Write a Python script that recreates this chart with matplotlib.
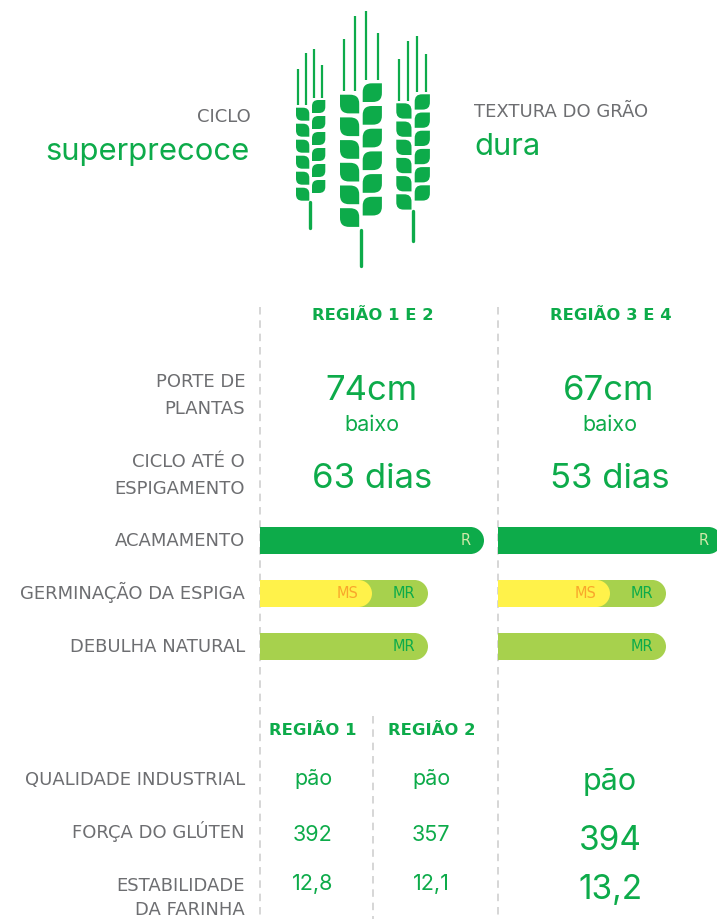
import matplotlib
matplotlib.use("Agg")
import matplotlib.pyplot as plt
from matplotlib.path import Path
from matplotlib.patches import PathPatch

plt.rcParams['font.family'] = ['Inter', 'DejaVu Sans']
ROTULO = 'DejaVu Sans'

GREEN = '#0dab4a'
LIGHT = '#a7d14d'
YELLOW = '#fff24a'
ORANGE = '#f9a72b'
PALE = '#cfe8a9'
GRAY = '#6d6e71'
DASH = '#cfcfcf'

# Dados do grafico
ciclo = 'superprecoce'
textura = 'dura'
regioes_topo = ['REGIÃO 1 E 2', 'REGIÃO 3 E 4']
porte = ['74cm', '67cm']
porte_classe = ['baixo', 'baixo']
espigamento = ['63 dias', '53 dias']

# escala de resistencia: MS=2, MR=3, R=4
niveis = {'MS': 2, 'MR': 3, 'R': 4}
acamamento = ['R', 'R']
germinacao = ['MR', 'MR']
germinacao_frente = ['MS', 'MS']
debulha = ['MR', 'MR']

qualidade = ['pão', 'pão', 'pão']
gluten = ['392', '357', '394']
estabilidade = ['12,8', '12,1', '13,2']

# espigas: x das colunas, topo, passo, tamanho do grao, haste e aristas
espigas = [
    dict(esq=296.0, dir=312.0, larg=13.3, topo_e=107.7, topo_d=100.0, passo=16.0, alt=13.0,
         haste=(310.3, 201.7, 228.3), ar_x=[298.3, 306.3, 314.3, 322.3],
         ar_topo=[68.7, 52.7, 48.7, 64.7], ar_base=[105.3, 105.3, 98.0, 98.0]),
    dict(esq=340.0, dir=362.7, larg=19.2, topo_e=94.7, topo_d=83.3, passo=22.7, alt=18.7,
         haste=(360.5, 230.0, 265.7), ar_x=[343.7, 355.0, 366.3, 377.7],
         ar_topo=[39.0, 16.0, 10.7, 33.0], ar_base=[91.0, 91.0, 80.0, 80.0]),
    dict(esq=396.3, dir=414.7, larg=15.2, topo_e=103.3, topo_d=94.3, passo=18.2, alt=15.3,
         haste=(413.0, 211.0, 240.7), ar_x=[399.3, 408.3, 417.3, 426.3],
         ar_topo=[58.7, 40.7, 36.0, 54.0], ar_base=[101.3, 101.3, 92.0, 92.0]),
]

fig = plt.figure(figsize=(7.17, 9.19), dpi=100)
ax = fig.add_axes([0, 0, 1, 1])
ax.set_xlim(0, 717)
ax.set_ylim(919, 0)
ax.axis('off')

# contorno do grao em coordenadas unitarias (grao da coluna esquerda)
GRAO = [(0, 0), (0.5, 0), (0.85, 0), (1, 0.15), (1, 0.5), (1, 1), (0.5, 1),
        (0.15, 1), (0, 0.85), (0, 0.5), (0, 0)]
GRAO_CODES = [Path.MOVETO, Path.LINETO, Path.CURVE4, Path.CURVE4, Path.CURVE4, Path.LINETO,
              Path.LINETO, Path.CURVE4, Path.CURVE4, Path.CURVE4, Path.CLOSEPOLY]


def grao(x, y, w, h, direita):
    verts = []
    for u, v in GRAO:
        if direita:
            u = 1 - u
        verts.append((x + u * w, y + v * h))
    ax.add_patch(PathPatch(Path(verts, GRAO_CODES), fc=GREEN, ec='none'))


for e in espigas:
    for i in range(6):
        grao(e['esq'], e['topo_e'] + i * e['passo'], e['larg'], e['alt'], False)
        grao(e['dir'], e['topo_d'] + i * e['passo'], e['larg'], e['alt'], True)
    hx, h0, h1 = e['haste']
    ax.plot([hx, hx], [h0, h1], color=GREEN, lw=2.4, solid_capstyle='round')
    for ar_x, t, b in zip(e['ar_x'], e['ar_topo'], e['ar_base']):
        ax.plot([ar_x, ar_x], [t, b], color=GREEN, lw=1.6, solid_capstyle='butt')


def barra(x0, y0, nivel, cor, altura=27, unidade=56):
    # barra com o lado direito arredondado
    x1 = x0 + niveis[nivel] * unidade
    r = altura / 2
    c = r * 0.55
    verts = [(x0, y0), (x1 - r, y0), (x1 - r + c, y0), (x1, y0 + r - c), (x1, y0 + r),
             (x1, y0 + r + c), (x1 - r + c, y0 + altura), (x1 - r, y0 + altura),
             (x0, y0 + altura), (x0, y0)]
    codes = [Path.MOVETO, Path.LINETO, Path.CURVE4, Path.CURVE4, Path.CURVE4,
             Path.CURVE4, Path.CURVE4, Path.CURVE4, Path.LINETO, Path.CLOSEPOLY]
    ax.add_patch(PathPatch(Path(verts, codes), fc=cor, ec='none', zorder=2))
    return x1


# linhas tracejadas
for x, y0 in [(260, 307), (498, 307), (372.5, 716)]:
    ax.plot([x, x], [y0, 919], color=DASH, lw=1.2, dashes=(4.5, 3.5), zorder=1)

colunas = [260, 498]
centros = [372, 610]
for i, x0 in enumerate(colunas):
    ax.text(centros[i] + 1, 320, regioes_topo[i], color=GREEN, fontsize=11.8, fontweight='bold',
            family=ROTULO, ha='center')
    ax.text(centros[i] - 1, 400, porte[i], color=GREEN, fontsize=25, ha='center')
    ax.text(centros[i], 431, porte_classe[i], color=GREEN, fontsize=15.5, ha='center')
    ax.text(centros[i], 488, espigamento[i], color=GREEN, fontsize=25, ha='center')

    fim = barra(x0, 527, acamamento[i], GREEN)
    ax.text(fim - 18, 545, acamamento[i], color=PALE, fontsize=10.5, family=ROTULO, ha='center', zorder=3)

    fim = barra(x0, 580, germinacao[i], LIGHT)
    ax.text(fim - 24, 598, germinacao[i], color=GREEN, fontsize=10.5, family=ROTULO, ha='center', zorder=3)
    fim = barra(x0, 580, germinacao_frente[i], YELLOW)
    ax.text(fim - 24, 598, germinacao_frente[i], color=ORANGE, fontsize=10.5, family=ROTULO, ha='center', zorder=3)

    fim = barra(x0, 633, debulha[i], LIGHT)
    ax.text(fim - 24, 651, debulha[i], color=GREEN, fontsize=10.5, family=ROTULO, ha='center', zorder=3)

# rotulos da esquerda
rotulos = [('PORTE DE', 387), ('PLANTAS', 414), ('CICLO ATÉ O', 467), ('ESPIGAMENTO', 494),
           ('ACAMAMENTO', 546), ('GERMINAÇÃO DA ESPIGA', 599), ('DEBULHA NATURAL', 652),
           ('QUALIDADE INDUSTRIAL', 785), ('FORÇA DO GLÚTEN', 838), ('ESTABILIDADE', 891),
           ('DA FARINHA', 915)]
for txt, y in rotulos:
    ax.text(245, y, txt, color=GRAY, fontsize=13, family=ROTULO, ha='right')

# topo
ax.text(251, 122, 'CICLO', color=GRAY, fontsize=13, family=ROTULO, ha='right')
ax.text(250, 160, ciclo, color=GREEN, fontsize=22.3, ha='right')
ax.text(474, 117, 'TEXTURA DO GRÃO', color=GRAY, fontsize=13, family=ROTULO, ha='left')
ax.text(474, 155, textura, color=GREEN, fontsize=22.3, ha='left')

# tabela de baixo
ax.text(313, 735, 'REGIÃO 1', color=GREEN, fontsize=11.8, fontweight='bold', family=ROTULO, ha='center')
ax.text(432, 735, 'REGIÃO 2', color=GREEN, fontsize=11.8, fontweight='bold', family=ROTULO, ha='center')
xs = [313, 431, 610]
tam = [15.5, 15.5, 24]
tam_qualidade = [15.5, 15.5, 22]
base_q = [785, 785, 790]
base_g = [841, 841, 850]
base_e = [890, 890, 899]
for i in range(3):
    ax.text(xs[i], base_q[i], qualidade[i], color=GREEN, fontsize=tam_qualidade[i], ha='center')
    ax.text(xs[i], base_g[i], gluten[i], color=GREEN, fontsize=tam[i], ha='center')
    ax.text(xs[i], base_e[i], estabilidade[i], color=GREEN, fontsize=tam[i], ha='center')

fig.savefig('out.png', dpi=100)
